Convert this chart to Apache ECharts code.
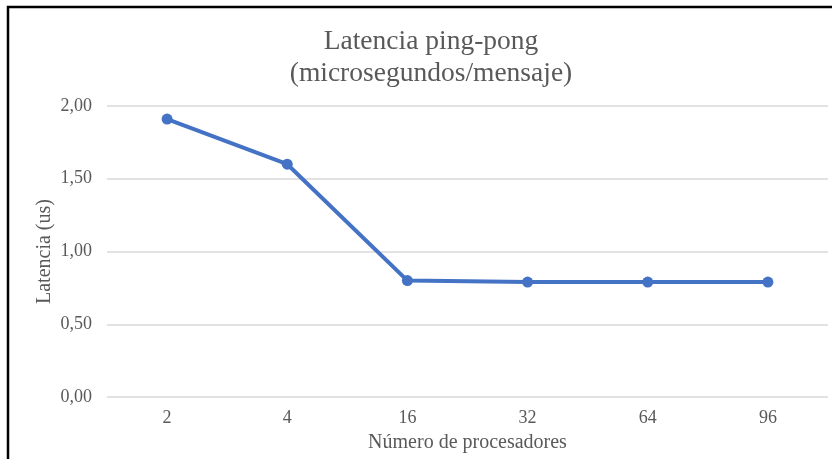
<!DOCTYPE html>
<html>
<head>
<meta charset="utf-8">
<script src="https://cdn.jsdelivr.net/npm/echarts@6/dist/echarts.min.js"></script>
<style>html,body{margin:0;padding:0;background:#fff;}#c{width:832px;height:459px;}</style>
</head>
<body>
<div id="c"></div>
<script>
var categories = ['2', '4', '16', '32', '64', '96'];
var latencia = [1.91, 1.60, 0.80, 0.79, 0.79, 0.79];
var yTicks = [0, 0.5, 1, 1.5, 2];

var chart = echarts.init(document.getElementById('c'));
var serif = '"Liberation Serif", "Times New Roman", serif';
chart.setOption({
  animation: false,
  backgroundColor: '#ffffff',
  title: {
    text: 'Latencia ping-pong\n(microsegundos/mensaje)',
    left: 426, top: 21, textAlign: 'center',
    textStyle: { fontFamily: serif, fontSize: 27.5, fontWeight: 'normal', color: '#595959', lineHeight: 32 }
  },
  grid: { left: 107, right: 4, top: 106, bottom: 62 },
  xAxis: {
    type: 'category', data: categories, boundaryGap: true,
    name: 'Número de procesadores', nameLocation: 'middle', nameGap: 36, nameMoveOverlap: false,
    nameTextStyle: { fontFamily: serif, fontSize: 20, color: '#595959' },
    axisLine: { show: false }, axisTick: { show: false },
    axisLabel: { fontFamily: serif, fontSize: 18, color: '#595959', margin: 12 }
  },
  yAxis: {
    type: 'value', min: yTicks[0], max: yTicks[yTicks.length - 1], interval: 0.5,
    name: 'Latencia (us)', nameLocation: 'middle', nameGap: 52, nameMoveOverlap: false,
    nameTextStyle: { fontFamily: serif, fontSize: 20, color: '#595959' },
    axisLine: { show: false }, axisTick: { show: false },
    splitLine: { lineStyle: { color: '#d9d9d9', width: 1.5 } },
    axisLabel: { fontFamily: serif, fontSize: 18, color: '#595959', margin: 15,
      formatter: function (v) { return v.toFixed(2).replace('.', ','); } }
  },
  series: [{
    type: 'line', data: latencia,
    symbol: 'circle', symbolSize: 11,
    lineStyle: { color: '#4472C4', width: 4 },
    itemStyle: { color: '#4472C4' }
  }],
  graphic: [{
    type: 'polyline',
    shape: { points: [[8, 459], [8, 7], [832, 7]] },
    style: { stroke: '#000', lineWidth: 2.5, fill: null }
  }]
});
</script>
</body>
</html>
